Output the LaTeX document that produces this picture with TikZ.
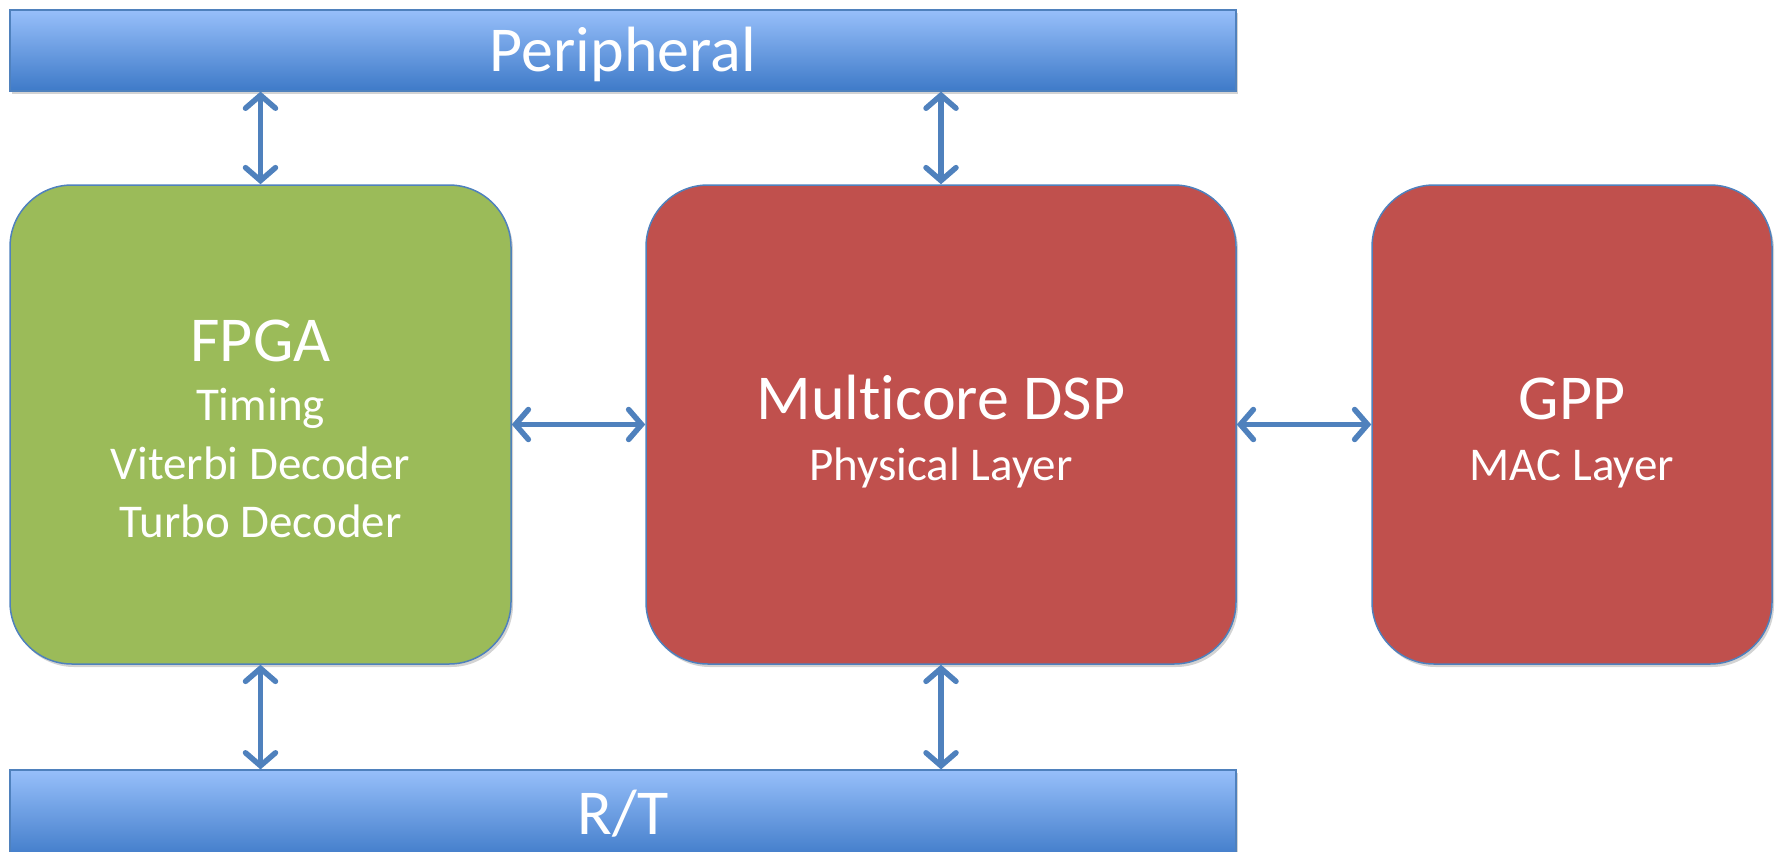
\documentclass[tikz,border=0pt]{standalone}
\usepackage{fontspec}
\setmainfont[Ligatures={NoCommon}]{Carlito}
\usetikzlibrary{arrows.meta,shadows,calc}
\definecolor{bordblue}{RGB}{79,129,189}
\definecolor{bartop}{RGB}{151,191,250}
\definecolor{barbot}{RGB}{62,122,200}
\definecolor{fpgagreen}{RGB}{155,187,89}
\definecolor{dspred}{RGB}{192,80,77}
\tikzset{
  bar/.style={draw=bordblue, line width=1.2pt, top color=bartop, bottom color=barbot, minimum width=1226pt, minimum height=81pt, inner sep=0pt, drop shadow={opacity=0.35, shadow xshift=2pt, shadow yshift=-3pt}},
  block/.style={draw=bordblue, line width=1.5pt, rounded corners=62pt, minimum height=479pt, inner sep=0pt, drop shadow={opacity=0.35, shadow xshift=2pt, shadow yshift=-3pt}},
  title/.style={text=white, font=\fontsize{64}{68}\selectfont, inner sep=0pt, anchor=base},
  sub/.style={text=white, font=\fontsize{47}{50}\selectfont, inner sep=0pt, anchor=base},
  link/.style={draw=bordblue, line width=5.5pt, {Straight Barb[length=13pt,width=30pt,line width=5.5pt,line cap=round]}-{Straight Barb[length=13pt,width=30pt,line width=5.5pt,line cap=round]}},
}
\begin{document}
\begin{tikzpicture}[x=1pt,y=-1pt]
\useasboundingbox (0,0) rectangle (1779,851);
\node[bar] (per) at (623,50.5) {};
\node[bar, minimum height=90pt] (rt) at (623,815) {};
\node[block, fill=fpgagreen, minimum width=501pt] (fpga) at (260.5,424.5) {};
\node[block, fill=dspred, minimum width=590pt] (dsp) at (941,424.5) {};
\node[block, fill=dspred, minimum width=400pt] (gpp) at (1572,424.5) {};
% texts
\node[title] (pertext) at (623,71) {Peripheral};
\node[title] (rttext) at (623,834) {R/T};
\node[title] (fpgat) at (260.5,361) {FPGA};
\node[sub] (fpga1) at (260.5,420) {Timing};
\node[sub] (fpga2) at (260.5,479) {Viterbi Decoder};
\node[sub] (fpga3) at (260.5,537) {Turbo Decoder};
\node[title] (dspt) at (941,419) {Multicore DSP};
\node[sub] (dsp1) at (941,480) {Physical Layer};
\node[title] (gppt) at (1572,419) {GPP};
\node[sub] (gpp1) at (1572,480) {MAC Layer};
% connectors
\draw[link] (per.south -| fpga.north) -- (fpga.north);
\draw[link] (per.south -| dsp.north) -- (dsp.north);
\draw[link] (fpga.south) -- (fpga.south |- rt.north);
\draw[link] (dsp.south) -- (dsp.south |- rt.north);
\draw[link] (fpga.east) -- (dsp.west);
\draw[link] (dsp.east) -- (gpp.west);
\end{tikzpicture}
\end{document}
